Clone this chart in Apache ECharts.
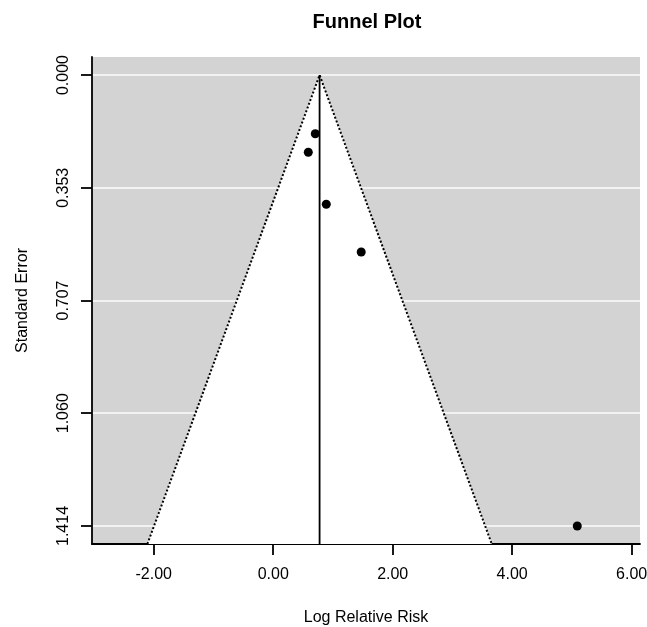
<!DOCTYPE html>
<html>
<head>
<meta charset="utf-8">
<script src="https://cdn.jsdelivr.net/npm/echarts@6/dist/echarts.min.js"></script>
<style>html,body{margin:0;padding:0;background:#fff}#chart{width:647px;height:627px}</style>
</head>
<body>
<div id="chart"></div>
<script>
// Data
const logRR = [0.704, 0.587, 0.888, 1.473, 5.09];
const stdErr = [0.184, 0.242, 0.405, 0.555, 1.414];
const pooledEstimate = 0.776;
const zCrit = 1.96;
const xTicks = [-2, 0, 2, 4, 6];
const yTicks = [0, 0.3535, 0.707, 1.0605, 1.414];
const yTickLabels = ['0.000', '0.353', '0.707', '1.060', '1.414'];
const xRange = [-3.034, 6.14];
const yRange = [-0.0566, 1.4706];

const seBottom = yRange[1];
const funnelVertices = [
  [pooledEstimate - zCrit * seBottom, seBottom],
  [pooledEstimate, 0],
  [pooledEstimate + zCrit * seBottom, seBottom]
];
const points = logRR.map((v, i) => [v, stdErr[i]]);

const font = 'Liberation Sans, Arial, sans-serif';
const chart = echarts.init(document.getElementById('chart'), null, {renderer: 'canvas'});
chart.setOption({
  animation: false,
  backgroundColor: '#fff',
  title: {
    text: 'Funnel Plot', left: 362, top: 7, textAlign: 'center',
    textStyle: {fontFamily: font, fontSize: 20, fontWeight: 'bold', color: '#000'}
  },
  grid: {left: 92, right: 7, top: 57, bottom: 83, show: true, backgroundColor: '#d3d3d3', borderWidth: 0,
         containLabel: false, outerBoundsMode: 'none'},
  xAxis: {
    type: 'value', min: xRange[0], max: xRange[1],
    name: 'Log Relative Risk', nameLocation: 'middle', nameGap: 66,
    nameTextStyle: {fontFamily: font, fontSize: 16, color: '#000'},
    axisLine: {show: true, onZero: false, lineStyle: {color: '#000', width: 1.8}},
    axisTick: {show: true, customValues: xTicks, length: 11, lineStyle: {color: '#000', width: 1.8}},
    axisLabel: {customValues: xTicks, formatter: v => v.toFixed(2), margin: 23, fontFamily: font, fontSize: 16, color: '#000', hideOverlap: false},
    splitLine: {show: false}
  },
  yAxis: {
    type: 'value', inverse: true, min: yRange[0], max: yRange[1],
    name: 'Standard Error', nameLocation: 'middle', nameGap: 61, nameRotate: 90,
    nameTextStyle: {fontFamily: font, fontSize: 16, color: '#000'},
    axisLine: {show: true, onZero: false, lineStyle: {color: '#000', width: 1.8}},
    axisTick: {show: true, customValues: yTicks, length: 11, lineStyle: {color: '#000', width: 1.8}},
    axisLabel: {
      customValues: yTicks, rotate: 90, margin: 20,
      formatter: v => { const i = yTicks.findIndex(t => Math.abs(t - v) < 1e-6); return i >= 0 ? yTickLabels[i] : ''; },
      fontFamily: font, fontSize: 16, color: '#000'
    },
    splitLine: {show: true, lineStyle: {color: '#f2f2f2', width: 2}}
  },
  series: [
    {
      type: 'custom', clip: true, z: 2,
      data: [funnelVertices[0]],
      renderItem: (params, api) => {
        const pts = funnelVertices.map(p => api.coord(p));
        return {type: 'group', children: [
          {type: 'polygon', shape: {points: pts}, style: {fill: '#ffffff'}},
          {type: 'polyline', shape: {points: pts}, style: {stroke: '#000', lineWidth: 2, lineDash: [2, 2], fill: null}}
        ]};
      }
    },
    {
      type: 'line', z: 3, symbol: 'none',
      data: [[pooledEstimate, 0], [pooledEstimate, seBottom]],
      lineStyle: {color: '#000', width: 1.8}
    },
    {
      type: 'scatter', z: 4, symbol: 'circle', symbolSize: 9,
      itemStyle: {color: '#000', opacity: 1},
      data: points
    }
  ]
});
</script>
</body>
</html>
